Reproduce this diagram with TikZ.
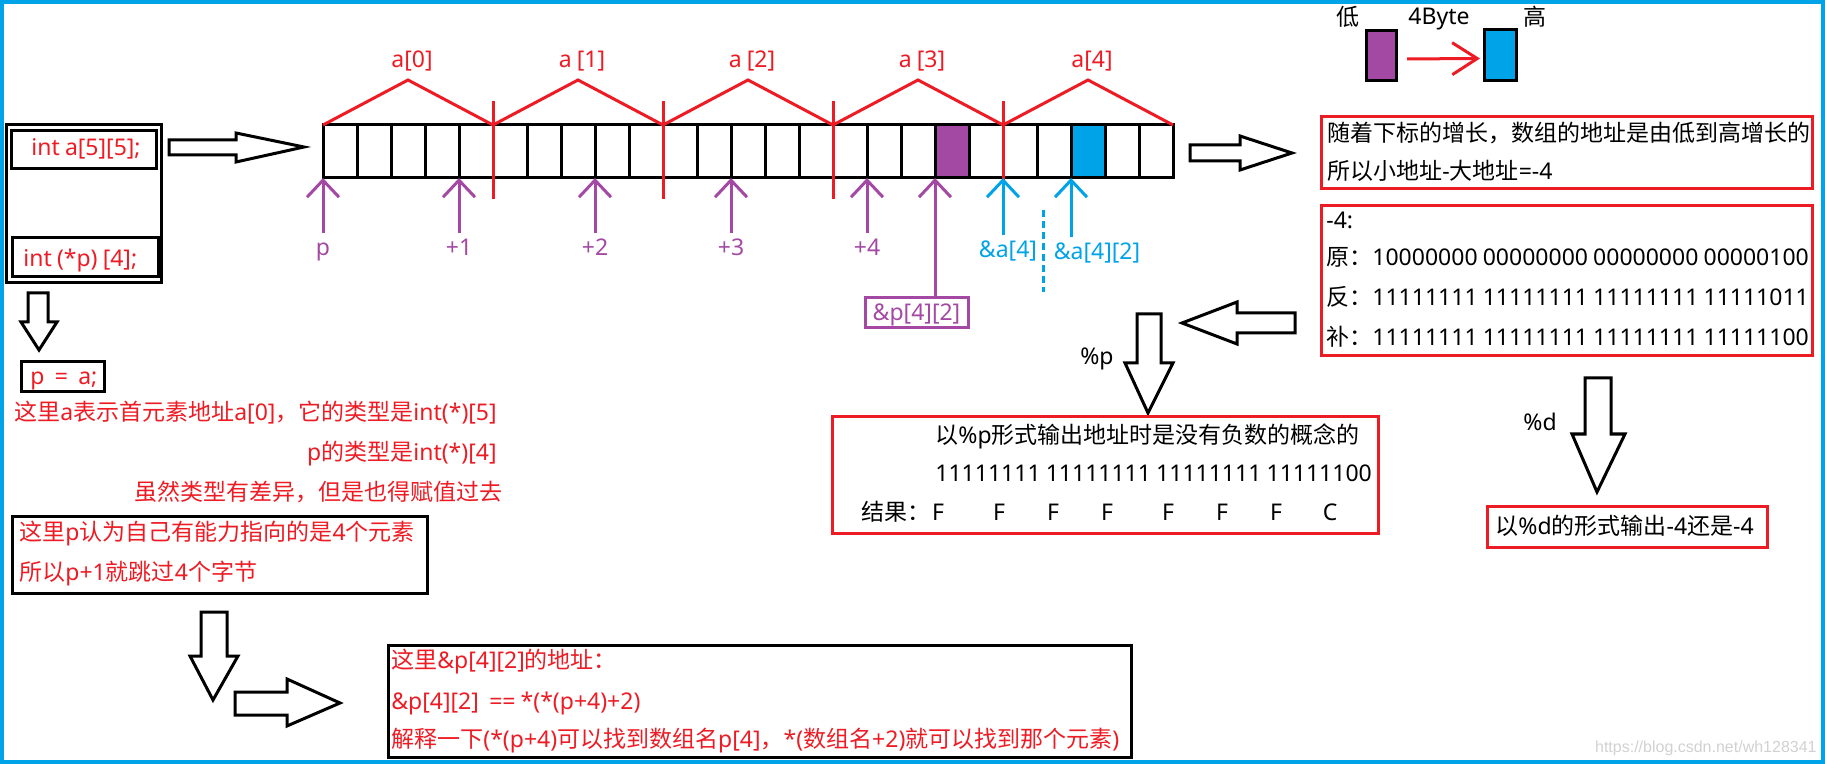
\documentclass[tikz,border=0pt]{standalone}
\usepackage{fontspec}
\setmainfont{Noto Sans CJK SC}
\newfontfamily\cjkfont{Noto Sans CJK SC}
\newfontfamily\latfont{Noto Sans}
\newfontfamily\wmfont{Liberation Sans}
\usetikzlibrary{arrows.meta}

% latin letters in Noto Sans, the rest in the CJK face
\XeTeXinterchartokenstate=1
\newXeTeXintercharclass\latcls
\count255=33
\loop \XeTeXcharclass\count255=\latcls \advance\count255 by 1 \ifnum\count255<127 \repeat
\XeTeXinterchartoks 0 \latcls = {\latfont}
\XeTeXinterchartoks 4095 \latcls = {\latfont}
\XeTeXinterchartoks \latcls 0 = {\cjkfont}
\XeTeXinterchartoks \latcls 4095 = {\cjkfont}

\definecolor{pred}{RGB}{237,28,36}
\definecolor{ppurple}{RGB}{163,73,164}
\definecolor{pblue}{RGB}{0,162,232}

\tikzset{
  txt/.style={inner sep=0pt, text height=0.76em, text depth=0pt, anchor=west},
  rtxt/.style={txt, text=pred},
  cell/.style={draw, line width=1.5pt},
  redline/.style={draw=pred, line width=1.5pt},
  pptr/.style={draw=ppurple, line width=1.5pt, -{Straight Barb[length=8.5pt, width=16pt]}},
  bptr/.style={pptr, draw=pblue},
  plab/.style={inner sep=0pt, text height=0.76em, text depth=0pt, outer sep=3.5pt, text=ppurple},
  blab/.style={plab, text=pblue},
  rbox/.style={draw=pred, line width=1.5pt, inner sep=0pt},
  kbox/.style={draw, line width=1.5pt, inner sep=0pt},
  hollow/.style={draw, line width=1.5pt, fill=white, line join=miter},
}

\begin{document}
\begin{tikzpicture}[x=0.5pt, y=-0.5pt, font=\fontsize{11.5}{14}\selectfont]
      \useasboundingbox (0,0) rectangle (1825,764);
      \draw[pblue, line width=2pt] (2,2) rectangle (1823,762);

      % declarations
      \node[kbox, minimum width=77.5pt, minimum height=79pt] (decl) at (83.5,204) {};
      \node[kbox, minimum width=72.5pt, minimum height=19pt] (arr) at (83.5,150) {};
      \node[kbox, minimum width=73pt, minimum height=19.5pt] (ptr) at (85,257.5) {};
      \node[rtxt] (tarr) at (31,148) {int a[5][5];};
      \node[rtxt] (tptr) at (23,259) {int (*p) [4];};
      \draw[hollow] (169,140) -- (236,140) -- (236,133) -- (304,147) -- (236,162) -- (236,155) -- (169,155) -- cycle;
      \draw[hollow] (28,293) -- (28,322) -- (21,322) -- (39,350) -- (57,322) -- (48,322) -- (48,293) -- cycle;

      \node[kbox, minimum width=41.5pt, minimum height=15pt] (asg) at (62.5,377) {};
      \node[rtxt] (tasg) at (30,377) {p~ = ~a;};
      \node[rtxt] (n1) at (14,413) {这里a表示首元素地址a[0]，它的类型是int(*)[5]};
      \node[rtxt, anchor=east] (n2) at (497,453) {p的类型是int(*)[4]};
      \node[rtxt, anchor=east] (n3) at (503,493) {虽然类型有差异，但是也得赋值过去};

      \node[kbox, minimum width=207.5pt, minimum height=38.5pt] (jump) at (219.5,554.5) {};
      \node[rtxt] (j1) at (19,533) {这里p认为自己有能力指向的是4个元素};
      \node[rtxt] (j2) at (19,573) {所以p+1就跳过4个字节};
      \draw[hollow] (201,612) -- (201,656) -- (190,656) -- (213,700) -- (238,656) -- (227,656) -- (227,612) -- cycle;
      \draw[hollow] (235,692) -- (287,692) -- (287,679) -- (340,703) -- (287,726) -- (287,715) -- (235,715) -- cycle;

      \node[kbox, minimum width=371.5pt, minimum height=56pt] (expl) at (759.5,701) {};
      \node[rtxt] (e1) at (391,661) {这里\&p[4][2]的地址：};
      \node[rtxt] (e2) at (391,702) {\&p[4][2]~ == *(*(p+4)+2)};
      \node[rtxt] (e3) at (391,740) {解释一下(*(p+4)可以找到数组名p[4]，*(数组名+2)就可以找到那个元素)};

      % memory of a[5][5]
      \fill[ppurple] (935,125) rectangle (969,178);
      \fill[pblue] (1071,125) rectangle (1105,178);
      \foreach \i in {0,...,24}
      {
        \draw[cell] ({323+34*\i},125) rectangle ({357+34*\i},178);
      }
      \foreach \i in {0,...,25}
      {
        \coordinate (b\i) at ({323+34*\i},178);
      }
      \draw[redline, line join=miter] (323,125) \foreach \k in {0,...,4} { -- ({408+170*\k},80) -- ({493+170*\k},125) };
      \foreach \k in {5,10,15,20}
      {
        \draw[redline] ({323+34*\k},101) -- ({323+34*\k},199);
      }
      \foreach \k/\t in {0/{a[0]},1/{a [1]},2/{a [2]},3/{a [3]},4/{a[4]}}
      {
        \node[rtxt, anchor=center] (a\k) at ({412+170*\k},60) {\t};
      }

      % pointers
      \foreach \i/\t in {0/p,4/+1,8/+2,12/+3,16/+4}
      {
        \node[plab] (q\i) at ({323+34*\i},248) {\t};
        \draw[pptr] (q\i) -- (b\i);
      }
      \node[kbox, draw=ppurple, text=ppurple, minimum width=51.5pt, minimum height=15pt, text height=0.76em, text depth=0pt] (pbox) at (916.5,313) {\&p[4][2]};
      \draw[pptr] (b18 |- pbox.north) -- (b18);
      \node[blab] (qa) at (1008,250) {\&a[4]};
      \draw[bptr] (b20 |- qa.north) -- (b20);
      \node[blab] (qb) at (1097,252) {\&a[4][2]};
      \draw[bptr] (b22 |- qb.north) -- (b22);
      \draw[pblue, line width=1.5pt, dash pattern=on 3.5pt off 2pt] (1043,210) -- (1043,292);

      % low / high
      \node[kbox, fill=ppurple, minimum width=15pt, minimum height=25pt] (lo) at (1381.5,55.5) {};
      \node[kbox, fill=pblue, minimum width=16pt, minimum height=25.5pt] (hi) at (1500.5,55) {};
      \draw[pred, line width=1.5pt, -{Straight Barb[length=12.5pt, width=16pt]}, shorten <=4.5pt, shorten >=1.5pt] ([yshift=-1.75pt]lo.east) -- ([yshift=-1.75pt]hi.west);
      \node[txt, anchor=center] (tlo) at (1348,18) {低};
      \node[txt, anchor=center] (tby) at (1439,17) {4Byte};
      \node[txt, anchor=center] (thi) at (1535,18) {高};

      % right column
      \draw[hollow] (1190,145) -- (1240,145) -- (1240,136) -- (1292,153) -- (1240,170) -- (1240,161) -- (1190,161) -- cycle;
      \node[rbox, minimum width=245.5pt, minimum height=36pt] (grow) at (1566.5,153) {};
      \node[txt] (g1) at (1327,134) {随着下标的增长，数组的地址是由低到高增长的};
      \node[txt] (g2) at (1327,172) {所以小地址-大地址=-4};

      \node[rbox, minimum width=245.5pt, minimum height=75pt] (bits) at (1566.5,281) {};
      \node[txt] (c0) at (1326,221) {-4:};
      \node[txt] (c1) at (1326,258) {原：10000000 00000000 00000000 00000100};
      \node[txt] (c2) at (1326,298) {反：11111111 11111111 11111111 11111011};
      \node[txt] (c3) at (1326,338) {补：11111111 11111111 11111111 11111100};

      \draw[hollow] (1295,313) -- (1237,313) -- (1237,302) -- (1182,323) -- (1237,344) -- (1237,333) -- (1295,333) -- cycle;
      \draw[hollow] (1137,314) -- (1137,363) -- (1125,363) -- (1148,413) -- (1173,363) -- (1161,363) -- (1161,314) -- cycle;
      \node[txt, anchor=center] (fp) at (1097,357) {\%p};

      \node[rbox, minimum width=273pt, minimum height=58pt] (hex) at (1105,475) {};
      \node[txt] (h1) at (935,436) {以\%p形式输出地址时是没有负数的概念的};
      \node[txt] (h2) at (935,474) {11111111 11111111 11111111 11111100};
      \node[txt] (h3) at (861,513) {结果：};
      \foreach \x [count=\n] in {938,999,1053,1107,1168,1222,1276}
      {
        \node[txt, anchor=center] (f\n) at (\x,513) {F};
      }
      \node[txt, anchor=center] (f8) at (1330,513) {C};

      \draw[hollow] (1585,378) -- (1585,434) -- (1572,434) -- (1597,492) -- (1625,434) -- (1611,434) -- (1611,378) -- cycle;
      \node[txt, anchor=center] (fd) at (1540,423) {\%d};
      \node[rbox, minimum width=140pt, minimum height=20.5pt] (dec) at (1627,526.5) {};
      \node[txt] (d1) at (1495,527) {以\%d的形式输出-4还是-4};

      \node[txt, anchor=east, text=black!18, font=\fontsize{8}{10}\selectfont] (wm) at (1817,745) {\XeTeXinterchartokenstate=0 \wmfont https://blog.csdn.net/wh128341};
\end{tikzpicture}
\end{document}
